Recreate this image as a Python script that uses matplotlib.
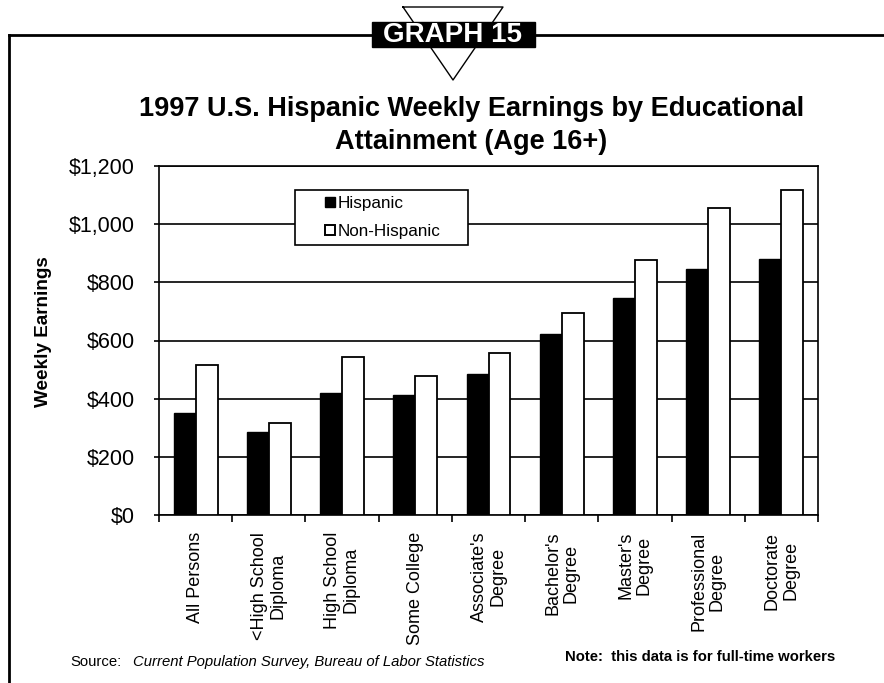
import matplotlib
matplotlib.use("Agg")
import matplotlib.pyplot as plt
from matplotlib.lines import Line2D
from matplotlib.patches import Rectangle
from matplotlib.ticker import FuncFormatter, FixedLocator

plt.rcParams['font.family'] = ['Liberation Sans', 'DejaVu Sans']

categories = ["All Persons", "<High School\nDiploma", "High School\nDiploma",
              "Some College", "Associate's\nDegree", "Bachelor's\nDegree",
              "Master's\nDegree", "Professional\nDegree", "Doctorate\nDegree"]
hispanic = [352, 285, 421, 411, 486, 623, 746, 847, 881]
non_hispanic = [517, 317, 542, 479, 557, 695, 877, 1055, 1116]
series_names = ["Hispanic", "Non-Hispanic"]
yticks = [0, 200, 400, 600, 800, 1000, 1200]

W, H = 884, 683
fig = plt.figure(figsize=(W / 100, H / 100), dpi=100)

def fx(x):
    return x / W

def fy(y):
    return 1 - y / H

AX_L, AX_R, AX_T, AX_B = 159, 818, 166, 515
ax = fig.add_axes([fx(AX_L), fy(AX_B), (AX_R - AX_L) / W, (AX_B - AX_T) / H])

x = list(range(len(categories)))
bw = 0.30
ax.bar([i - bw / 2 for i in x], hispanic, width=bw, color='black',
       edgecolor='black', linewidth=1, zorder=3, label=series_names[0])
ax.bar([i + bw / 2 for i in x], non_hispanic, width=bw, color='white',
       edgecolor='black', linewidth=1.3, zorder=3, label=series_names[1])

ax.set_xlim(-0.5, len(categories) - 0.5)
ax.set_ylim(0, 1200)
ax.set_yticks(yticks)
ax.yaxis.set_major_formatter(FuncFormatter(lambda v, p: "${:,.0f}".format(v)))
ax.tick_params(axis='y', direction='out', length=3.6, width=1.2, labelsize=15.5, pad=13.7)
ax.yaxis.grid(True, color='black', linewidth=1.2, zorder=0)
ax.set_axisbelow(True)

ax.set_xticks(x)
ax.set_xticklabels(categories, rotation=90, fontsize=13, va='top', ha='center',
                   linespacing=1.1)
ax.tick_params(axis='x', which='major', length=0, pad=12)
ax.xaxis.set_minor_locator(FixedLocator([i - 0.5 for i in range(len(categories) + 1)]))
ax.tick_params(axis='x', which='minor', direction='out', length=5, width=1.2)

for s in ax.spines.values():
    s.set_linewidth(1.2)
    s.set_color('black')

fig.text(fx(44), fy(332), "Weekly Earnings", fontsize=13.6, fontweight='bold',
         rotation=90, ha='center', va='center')

# Legend
handles = [Line2D([], [], linestyle='none', marker='s', markersize=7.2,
                  markerfacecolor='black', markeredgecolor='black'),
           Line2D([], [], linestyle='none', marker='s', markersize=7.2,
                  markerfacecolor='white', markeredgecolor='black',
                  markeredgewidth=1.4)]
lx0 = (295 - AX_L) / (AX_R - AX_L)
lw_ = (468 - 295) / (AX_R - AX_L)
ly1 = (AX_B - 190) / (AX_B - AX_T)
lh = (253 - 190) / (AX_B - AX_T)
leg = ax.legend(handles, series_names, loc='upper left',
                bbox_to_anchor=(lx0, ly1 - lh, lw_, lh), mode='expand',
                borderaxespad=0, fontsize=12.3, handlelength=3.42,
                handletextpad=-1.23, labelspacing=0.78, borderpad=0.33,
                fancybox=False, framealpha=1, edgecolor='black')
leg.get_frame().set_linewidth(1.2)
leg.set_zorder(5)

# Title
fig.text(fx(471.5), fy(109), "1997 U.S. Hispanic Weekly Earnings by Educational",
         fontsize=19.5, fontweight='bold', ha='center', va='center')
fig.text(fx(471.5), fy(142), "Attainment (Age 16+)",
         fontsize=19.5, fontweight='bold', ha='center', va='center')

# Frame lines
fig.add_artist(Line2D([fx(9), fx(884)], [fy(35), fy(35)], color='black', lw=2))
fig.add_artist(Line2D([fx(9), fx(9)], [fy(35), fy(683)], color='black', lw=2))
# Triangle
fig.add_artist(Line2D([fx(403), fx(503), fx(453), fx(403)],
                      [fy(7), fy(7), fy(80), fy(7)], color='black', lw=1))
# Header box
fig.add_artist(Rectangle((fx(372), fy(47)), (535 - 372) / W, (47 - 22) / H,
                         facecolor='black', edgecolor='black', zorder=4,
                         transform=fig.transFigure))
fig.text(fx(452.5), fy(35), "GRAPH 15", color='white', fontsize=20,
         fontweight='bold', ha='center', va='center', zorder=5)

# Source and note
fig.text(fx(70), fy(662), "Source:", fontsize=10.7, ha='left', va='center')
fig.text(fx(133), fy(662), "Current Population Survey, Bureau of Labor Statistics",
         fontsize=10.7, style='italic', ha='left', va='center')
fig.text(fx(565), fy(657), "Note:  this data is for full-time workers",
         fontsize=10.7, fontweight='bold', ha='left', va='center')

fig.savefig("out.png", dpi=100)
